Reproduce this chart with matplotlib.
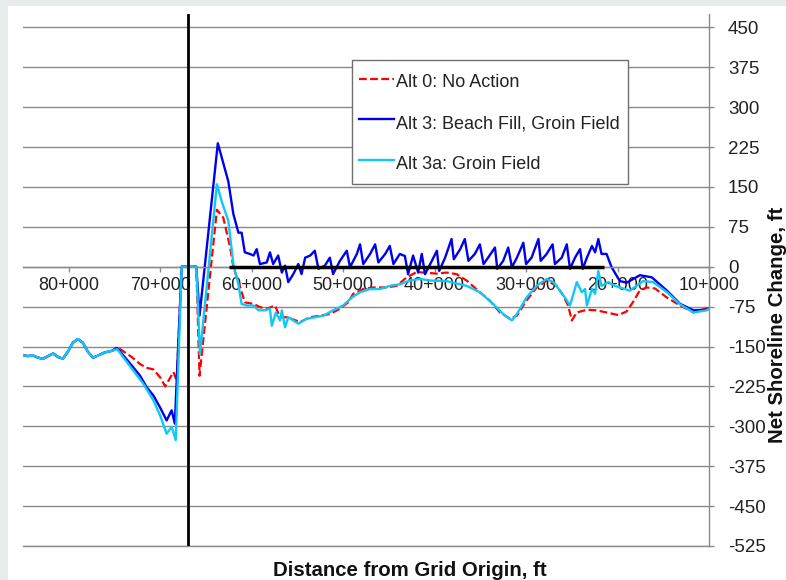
import matplotlib
matplotlib.use("Agg")
import matplotlib.pyplot as plt
from matplotlib.patches import Rectangle

plt.rcParams['font.family'] = ['Liberation Sans', 'DejaVu Sans']

# ---------------- data ----------------
left_x = [85000, 84550, 83900, 83350, 82800, 82250, 81700, 81150, 80650, 80100,
          79550, 79000, 78450, 77900, 77350, 76800, 76050, 75250]
left_y = [-166, -168, -167, -171, -173, -168, -163, -170, -173, -160,
          -143, -136, -143, -160, -171, -167, -161, -158]

alt0_x = left_x + [74700, 73950, 73100, 72200, 71500, 70750, 70000, 69450, 68950, 68550,
                   68200, 67650, 66050, 65700, 63800, 63100, 62350, 62000, 61250, 60750,
                   59800, 59100, 58350, 57450, 56900, 56150, 54700, 53600, 52550, 51450,
                   50350, 49450, 48900, 47800, 46700, 45250, 44150, 43050, 41950, 39750,
                   38700, 37600, 36500, 35050, 33950, 32850, 31750, 31000, 30100, 28850,
                   27750, 26650, 25950, 25400, 25000, 24450, 23350, 22300, 21200, 19900,
                   19000, 18250, 17550, 16800, 15900, 14600, 13150, 11700, 10600, 10000]
alt0_y = left_y + [-151, -160, -170, -183, -190, -193, -208, -225, -210, -198,
                   -214, 0, 0, -205, 107, 92, 36, -1, -39, -67,
                   -70, -76, -79, -73, -95, -95, -104, -95, -92, -89,
                   -79, -67, -51, -42, -39, -39, -36, -20, -10, -13,
                   -11, -14, -26, -48, -64, -86, -98, -92, -67, -39,
                   -26, -36, -54, -73, -101, -86, -81, -82, -86, -91,
                   -84, -65, -44, -39, -41, -58, -73, -86, -80, -77]

alt3_x = left_x + [74700, 72950, 72200, 71500, 70750, 70000, 69300, 68750, 68400,
                   67650, 66050, 65700, 63700, 62550, 62000, 61450, 61100, 60750, 60200,
                   59800, 59450, 59100, 58350, 58000, 57650, 57100, 56700, 56350, 56000,
                   55450, 54900, 54550, 54150, 53600, 53100, 52700, 52000, 51450, 51100,
                   50350, 49600, 49250, 48500, 48150, 47800, 47050, 46500, 46150, 45400,
                   44900, 44500, 43800, 43250, 42900, 42350, 41800, 41400, 41050, 40300,
                   39750, 39500, 38850, 38150, 37900, 37200, 36700, 36300, 35600, 35050,
                   34650, 34150, 33400, 33150, 32500, 31950, 31550, 31000, 30300, 30000,
                   29400, 28650, 28400, 27750, 27100, 26850, 26100, 25550, 25200, 24650,
                   24100, 23800, 23350, 22800, 22450, 22100, 21750, 21200, 20650, 19750,
                   19000, 17550, 16250, 14600, 13150, 11700, 10250, 10000]
alt3_y = left_y + [-153, -189, -205, -226, -242, -265, -289, -270, -295,
                   0, 0, -92, 232, 160, 99, 64, 64, 27, 24,
                   21, 33, 5, 8, 27, 5, 21, -11, 2, -29,
                   -14, 5, -14, 17, 21, 30, -4, 2, 17, -14,
                   11, 30, -1, 24, 42, 5, 24, 42, 8, 24,
                   39, 5, 24, 20, -14, 21, -11, 24, -14, 11,
                   30, -8, 17, 52, 14, 33, 52, 11, 24, 42,
                   5, 17, 36, -4, 11, 36, -1, 17, 45, 5,
                   17, 52, 11, 24, 42, 5, 17, 42, -4, 17,
                   33, -4, 17, 39, 27, 52, 24, 24, -1, -27,
                   -30, -16, -20, -45, -70, -82, -81, -79]

alt3a_x = left_x + [74700, 72950, 71850, 70750, 70000, 69300, 68750, 68300,
                    67650, 66050, 65650, 63800, 63300, 62550, 62000, 61450, 61100, 60550,
                    59800, 59250, 58550, 58000, 57800, 57350, 56900, 56700, 56350, 56000,
                    55450, 54900, 54000, 53100, 52150, 51100, 50000, 49050, 48150, 47050,
                    45950, 44900, 43800, 42700, 41600, 40500, 38700, 36500, 35050, 33600,
                    32500, 31550, 31000, 29950, 28850, 27750, 27000, 26300, 25750, 25200,
                    24450, 23900, 23550, 23350, 22800, 22450, 22100, 21750, 21000, 20300,
                    19550, 18650, 17200, 16100, 14600, 13150, 11700, 10250, 10000]
alt3a_y = left_y + [-155, -195, -220, -251, -280, -314, -301, -326,
                    0, 0, -165, 155, 124, 86, 5, -33, -70, -73,
                    -73, -82, -82, -79, -111, -86, -101, -82, -114, -95,
                    -101, -107, -98, -95, -92, -82, -73, -58, -48, -42,
                    -42, -36, -33, -26, -23, -26, -27, -36, -48, -70,
                    -89, -101, -89, -58, -36, -23, -29, -45, -58, -73,
                    -29, -48, -42, -73, -42, -51, -8, -36, -29, -36,
                    -40, -45, -27, -29, -48, -71, -86, -82, -79]

groin_x = [62500, 21500]
groin_y = [0, 0]
boundary_x = 67000

labels = ['Alt 0: No Action', 'Alt 3: Beach Fill, Groin Field', 'Alt 3a: Groin Field']
y_ticks = list(range(-525, 451, 75))
x_ticks = [80000, 70000, 60000, 50000, 40000, 30000, 20000, 10000]
x_ticklabels = [f"{v // 1000}+000" for v in x_ticks]

# ---------------- figure ----------------
W, H = 786, 580
fig = plt.figure(figsize=(W / 100, H / 100), dpi=100, facecolor='#e8ecec')
fig.patches.append(Rectangle((8 / W, 0), 1 - 8 / W, 1 - 6 / H, transform=fig.transFigure,
                             facecolor='white', edgecolor='none', zorder=-10))

ax = fig.add_axes([23 / W, 34 / H, 686 / W, 532 / H])
ax.set_facecolor('white')
ax.set_xlim(85000, 10000)
ax.set_ylim(-525, 475)

grid_c = '#8a8a8a'
for s in ['left', 'top']:
    ax.spines[s].set_visible(False)
ax.spines['right'].set_color(grid_c)
ax.spines['right'].set_linewidth(1.0)
ax.spines['bottom'].set_position(('data', 0))
ax.spines['bottom'].set_color(grid_c)
ax.spines['bottom'].set_linewidth(1.0)

ax.yaxis.tick_right()
ax.set_yticks(y_ticks)
ax.set_yticklabels([str(v) for v in y_ticks])
ax.set_xticks(x_ticks)
ax.set_xticklabels(x_ticklabels)
ax.tick_params(axis='y', direction='out', length=3.6, width=1.0, color=grid_c,
               pad=10, labelsize=13.5, labelcolor='#222222')
ax.tick_params(axis='x', direction='out', length=3.6, width=1.0, color=grid_c,
               pad=3.5, labelsize=13, labelcolor='#222222')
ax.yaxis.grid(True, color=grid_c, linewidth=1.0)
ax.axhline(y_ticks[0], color=grid_c, linewidth=1.0, clip_on=False, zorder=0.5)
ax.set_axisbelow(True)

ax.plot(alt0_x, alt0_y, color='#ff0000', lw=1.6, dashes=(3.5, 1.5), label=labels[0], zorder=2)
ax.plot(alt3_x, alt3_y, color='#0000ee', lw=1.7, label=labels[1], zorder=2.1)
ax.plot(alt3a_x, alt3a_y, color='#10c8f5', lw=1.7, label=labels[2], zorder=2.2)
ax.plot(groin_x, groin_y, color='black', lw=2.5, zorder=3, solid_capstyle='butt')
ax.axvline(boundary_x, color='black', lw=2.0, zorder=3)

# legend frame (drawn as a box in figure pixels) + frameless legend
ax.add_patch(Rectangle((352 / W, 1 - 184 / H), 276 / W, 124 / H, transform=fig.transFigure,
                       facecolor='white', edgecolor='#707070', linewidth=1.0,
                       clip_on=False, zorder=4))
leg = ax.legend(loc='upper left', bbox_to_anchor=(352 / W, 1 - 62.7 / H),
                bbox_transform=fig.transFigure, borderaxespad=0, fontsize=13,
                frameon=False, borderpad=0.39, labelspacing=0.96, handlelength=1.94,
                handleheight=1.63, handletextpad=0.1)
leg.set_zorder(5)
for t in leg.get_texts():
    t.set_color('#222222')

fig.text(410 / W, 1 - 570 / H, 'Distance from Grid Origin, ft', ha='center', va='center',
         fontsize=14.7, fontweight='bold', color='#111111')
fig.text(777.5 / W, 1 - 325 / H, 'Net Shoreline Change, ft', ha='center', va='center',
         rotation=90, fontsize=14.7, fontweight='bold', color='#111111')

fig.savefig('out.png', dpi=100, facecolor=fig.get_facecolor())
